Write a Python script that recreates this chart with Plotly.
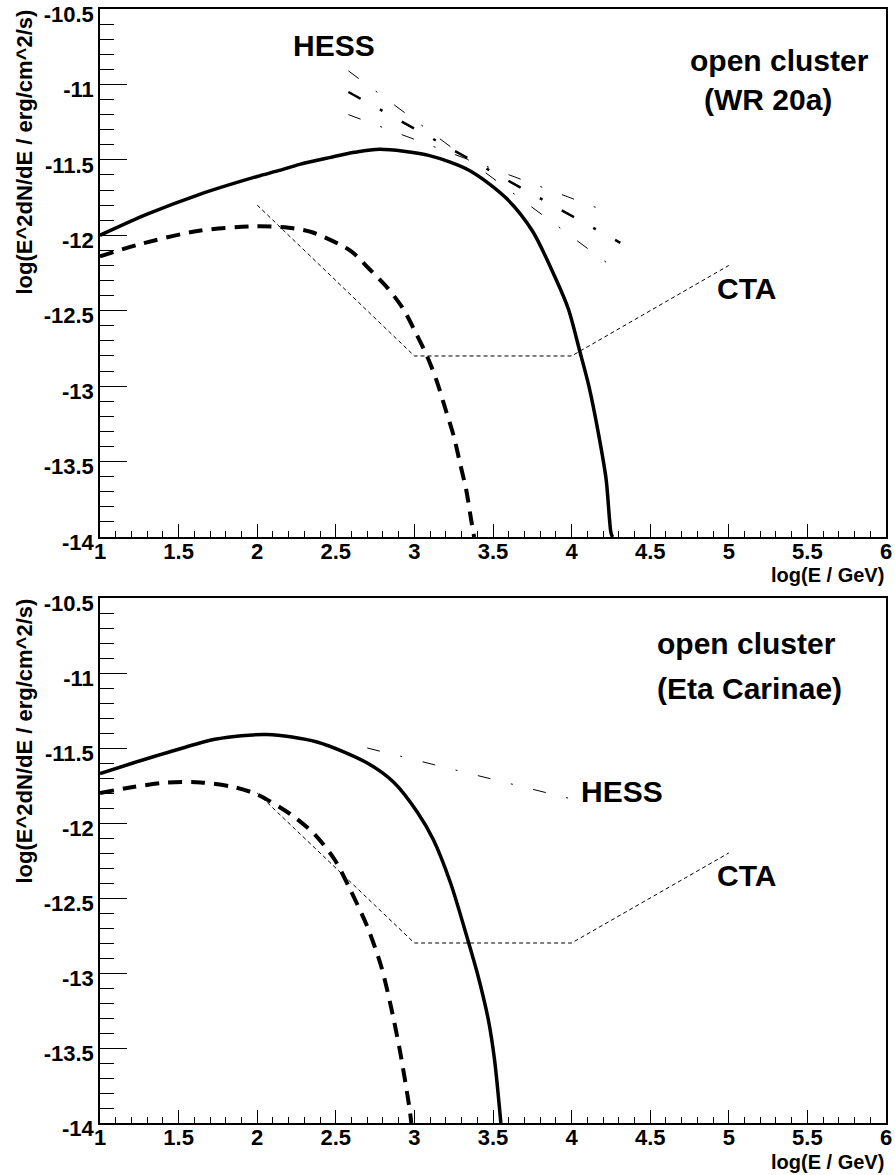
import plotly.graph_objects as go

# ---------------- data ----------------
# Top panel: open cluster (WR 20a)
wr_solid_x = [1.0, 1.3, 1.63, 2.0, 2.14, 2.27, 2.46, 2.62, 2.78, 3.09, 3.35, 3.58, 3.75, 3.90, 3.98, 4.05, 4.11, 4.17, 4.22, 4.25, 4.26]
wr_solid_y = [-12.00, -11.86, -11.73, -11.61, -11.57, -11.53, -11.485, -11.45, -11.43, -11.47, -11.57, -11.75, -11.97, -12.29, -12.49, -12.76, -13.00, -13.31, -13.62, -13.97, -14.0]
wr_dash_x = [1.0, 1.25, 1.63, 2.0, 2.2, 2.35, 2.59, 2.71, 2.83, 2.93, 3.01, 3.08, 3.14, 3.20, 3.25, 3.29, 3.33, 3.36, 3.38]
wr_dash_y = [-12.14, -12.06, -11.97, -11.94, -11.95, -11.98, -12.10, -12.22, -12.35, -12.49, -12.65, -12.80, -12.96, -13.16, -13.33, -13.51, -13.69, -13.88, -14.0]
wr_hess_up_x = [2.58, 4.26]
wr_hess_up_y = [-10.91, -12.21]
wr_hess_mid_x = [2.58, 4.31]
wr_hess_mid_y = [-11.05, -12.05]
wr_hess_lo_x = [2.58, 4.27]
wr_hess_lo_y = [-11.20, -11.86]

# Bottom panel: open cluster (Eta Carinae)
eta_solid_x = [1.0, 1.21, 1.43, 1.74, 2.06, 2.38, 2.70, 2.87, 3.02, 3.12, 3.23, 3.34, 3.40, 3.47, 3.51, 3.55]
eta_solid_y = [-11.67, -11.60, -11.53, -11.44, -11.41, -11.46, -11.60, -11.73, -11.93, -12.11, -12.40, -12.78, -13.00, -13.31, -13.58, -14.0]
eta_dash_x = [1.0, 1.21, 1.43, 1.64, 1.85, 2.0, 2.21, 2.36, 2.49, 2.59, 2.70, 2.79, 2.85, 2.91, 2.97, 2.98]
eta_dash_y = [-11.80, -11.76, -11.73, -11.73, -11.76, -11.81, -11.94, -12.07, -12.24, -12.44, -12.69, -12.96, -13.22, -13.53, -13.91, -14.0]
eta_hess_x = [2.70, 4.0]
eta_hess_y = [-11.50, -11.84]

# CTA sensitivity (both panels)
cta_x = [2.0, 3.0, 4.0, 5.0]
cta_y = [-11.8, -12.8, -12.8, -12.2]

# ticks
x_tickvals = [1, 1.5, 2, 2.5, 3, 3.5, 4, 4.5, 5, 5.5, 6]
x_ticktext = ["1", "1.5", "2", "2.5", "3", "3.5", "4", "4.5", "5", "5.5", "6"]
y_tickvals = [-10.5, -11, -11.5, -12, -12.5, -13, -13.5, -14]
y_ticktext = ["-10.5", "-11", "-11.5", "-12", "-12.5", "-13", "-13.5", "-14"]

y_title = "log(E^2dN/dE / erg/cm^2/s)"
x_title = "log(E / GeV)"

# ---------------- figure ----------------
W, H = 895, 1175
ML, MR, MT, MB = 100, 9, 9, 52
PH = H - MT - MB


def py(p):
    return (H - MB - p) / PH


FONT = "Liberation Sans, Arial, sans-serif"

fig = go.Figure()


def add_line(x, y, xa, ya, width, dash, shape="linear"):
    fig.add_trace(go.Scatter(x=x, y=y, mode="lines", xaxis=xa, yaxis=ya,
                             line=dict(color="black", width=width, dash=dash, shape=shape, smoothing=0.8),
                             showlegend=False, hoverinfo="skip"))


DD = "13px,21px,2px,21px"
# top
add_line(cta_x, cta_y, "x", "y", 1, "4px,3px")
add_line(wr_hess_up_x, wr_hess_up_y, "x", "y", 1, DD)
add_line(wr_hess_mid_x, wr_hess_mid_y, "x", "y", 2.5, "14px,22px,3px,22px")
add_line(wr_hess_lo_x, wr_hess_lo_y, "x", "y", 1, DD)
add_line(wr_solid_x, wr_solid_y, "x", "y", 3.5, "solid", "spline")
add_line(wr_dash_x, wr_dash_y, "x", "y", 4, "14px,9px", "spline")
# bottom
add_line(cta_x, cta_y, "x2", "y2", 1, "4px,3px")
add_line(eta_hess_x, eta_hess_y, "x2", "y2", 1, DD)
add_line(eta_solid_x, eta_solid_y, "x2", "y2", 3.5, "solid", "spline")
add_line(eta_dash_x, eta_dash_y, "x2", "y2", 4, "14px,9px", "spline")

tickfont = dict(family=FONT, size=22, color="black", weight="bold")


def xaxis(anchor):
    return dict(range=[1, 6], anchor=anchor, tickmode="array", tickvals=x_tickvals, ticktext=x_ticktext,
                ticks="inside", ticklen=13, tickwidth=1, tickcolor="black",
                minor=dict(dtick=0.1, tick0=1, ticks="inside", ticklen=6, tickwidth=1, tickcolor="black"),
                showline=True, linecolor="black", linewidth=1.5, mirror=True, automargin=False,
                ticklabeloverflow="allow",
                showgrid=False, zeroline=False, tickfont=tickfont, domain=[0, 1], ticklabelstandoff=-6)


def yaxis(anchor, dom):
    return dict(range=[-14, -10.5], anchor=anchor, tickmode="array", tickvals=y_tickvals, ticktext=y_ticktext,
                ticks="inside", ticklen=27, tickwidth=1, tickcolor="black",
                minor=dict(dtick=0.1, tick0=-14, ticks="inside", ticklen=14, tickwidth=1, tickcolor="black"),
                showline=True, linecolor="black", linewidth=1.5, mirror=True, automargin=False,
                ticklabeloverflow="allow", ticklabelshift=5,
                showgrid=False, zeroline=False, tickfont=tickfont, domain=dom, ticklabelstandoff=0)


fig.update_layout(
    width=W, height=H,
    margin=dict(l=ML, r=MR, t=MT, b=MB, pad=0, autoexpand=False),
    paper_bgcolor="white", plot_bgcolor="white",
    xaxis=xaxis("y"), yaxis=yaxis("x", [py(537), py(MT)]),
    xaxis2=xaxis("y2"), yaxis2=yaxis("x2", [0, py(598)]),
    showlegend=False,
)

af = dict(family=FONT, size=30, color="black", weight="bold")
annos = [
    dict(text="HESS", x=2.49, y=-10.74, xref="x", yref="y"),
    dict(text="open cluster", x=5.32, y=-10.84, xref="x", yref="y"),
    dict(text="(WR 20a)", x=5.25, y=-11.10, xref="x", yref="y"),
    dict(text="CTA", x=5.11, y=-12.35, xref="x", yref="y"),
    dict(text="open cluster", x=5.11, y=-10.80, xref="x2", yref="y2"),
    dict(text="(Eta Carinae)", x=5.13, y=-11.10, xref="x2", yref="y2"),
    dict(text="HESS", x=4.32, y=-11.79, xref="x2", yref="y2"),
    dict(text="CTA", x=5.11, y=-12.35, xref="x2", yref="y2"),
]
for a in annos:
    fig.add_annotation(showarrow=False, font=af, xanchor="center", yanchor="middle", **a)

tf = dict(family=FONT, size=22, color="black", weight="bold")
for top in (MT, 598):
    fig.add_annotation(text=y_title, textangle=-90, showarrow=False, font=tf,
                       xref="paper", yref="paper", x=(24 - ML) / (W - ML - MR), y=py(top - 1),
                       xanchor="center", yanchor="top")
for bot in (575, 1162):
    fig.add_annotation(text=x_title, showarrow=False, font=dict(family=FONT, size=20, color="black", weight="bold"),
                       xref="paper", yref="paper", x=1.0, y=py(bot),
                       xanchor="right", yanchor="middle")

fig.write_html("out.html")
